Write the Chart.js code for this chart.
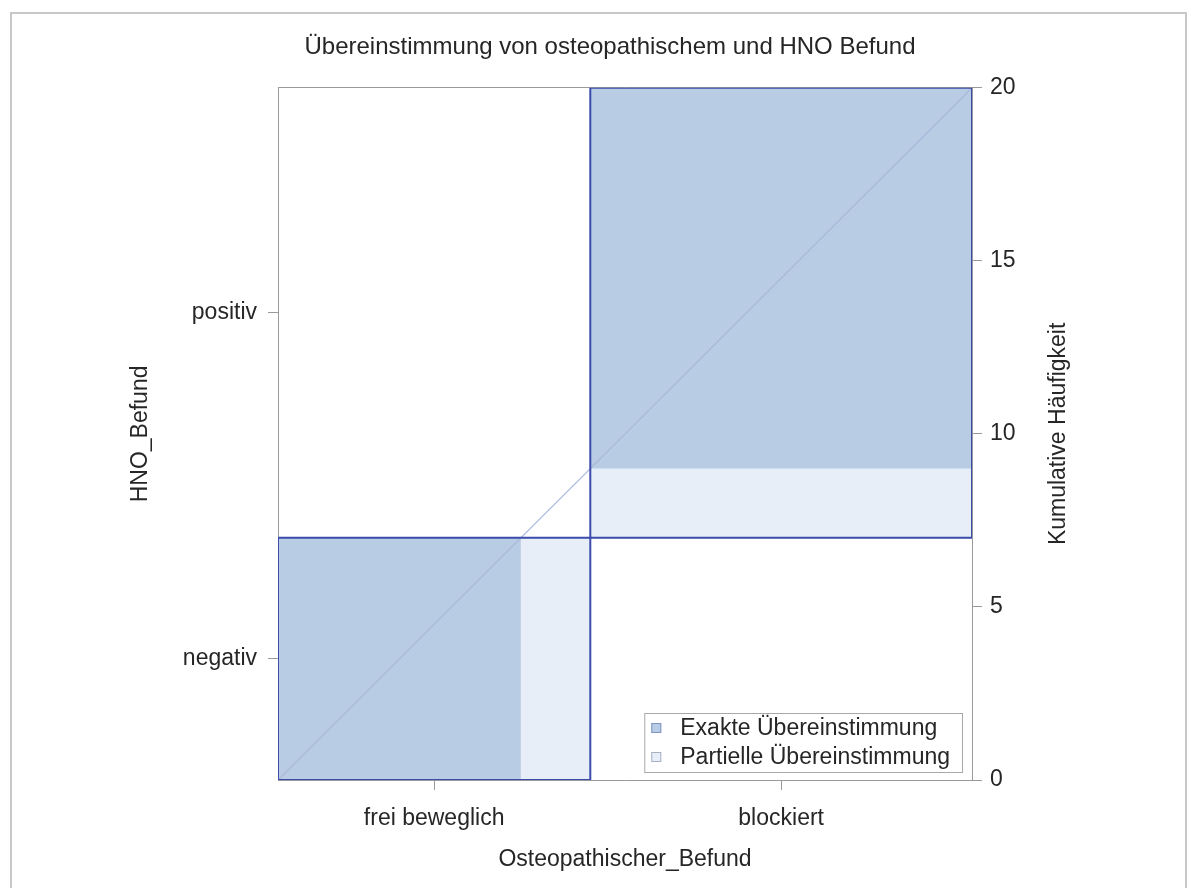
<!DOCTYPE html>
<html>
<head>
<meta charset="utf-8">
<script src="https://cdn.jsdelivr.net/npm/chart.js@4.4.1/dist/chart.umd.min.js"></script>
<style>
  html, body { margin: 0; padding: 0; background: #ffffff; }
  #wrap { position: relative; width: 1188px; height: 888px; overflow: hidden; }
  #wrap canvas { position: absolute; left: 0; top: 0; }
  #frame { position: absolute; left: 10px; top: 12px; width: 1177px; height: 900px;
           border: 2px solid #c8c8c8; box-sizing: border-box; pointer-events: none; }
</style>
</head>
<body>
<div id="wrap">
  <canvas id="chart" width="1188" height="888"></canvas>
  <div id="frame"></div>
</div>
<script>
// Categories of the two ratings
const columnCategories = ['frei beweglich', 'blockiert'];   // Osteopathischer_Befund
const rowCategories = ['negativ', 'positiv'];               // HNO_Befund

// Cell counts per HNO row, one value per osteopathic column
const negativCounts = [7, 0];
const positivCounts = [2, 11];

// Right axis ticks (cumulative frequency)
const cumulativeTicks = [0, 5, 10, 15, 20];

const legendLabels = ['Exakte Übereinstimmung', 'Partielle Übereinstimmung'];

const titleText = 'Übereinstimmung von osteopathischem und HNO Befund';
const xTitle = 'Osteopathischer_Befund';
const yTitle = 'HNO_Befund';
const y2Title = 'Kumulative Häufigkeit';

// ---- derived geometry of the agreement plot ----
const counts = [negativCounts, positivCounts];
const k = columnCategories.length;
const colTotals = columnCategories.map((_, c) => counts.reduce((s, row) => s + row[c], 0));
const rowTotals = counts.map(row => row.reduce((s, v) => s + v, 0));
const N = rowTotals.reduce((s, v) => s + v, 0);
const colCum = [0];
colTotals.forEach(t => colCum.push(colCum[colCum.length - 1] + t));
const rowCum = [0];
rowTotals.forEach(t => rowCum.push(rowCum[rowCum.length - 1] + t));
const colMids = colTotals.map((t, i) => colCum[i] + t / 2);
const rowMids = rowTotals.map((t, i) => rowCum[i] + t / 2);

const FONT = '"Liberation Sans", Arial, Helvetica, sans-serif';
const TEXT = '#262626';
const AXIS = '#9a9a9a';
const EXACT = '#b8cce4';
const PARTIAL = '#e7eef8';
const OUTLINE = '#3b4bab';
const DIAGONAL = '#a9b7d9';

const sumCol = (c, from, to) => { let s = 0; for (let r = Math.max(0, from); r <= Math.min(k - 1, to); r++) s += counts[r][c]; return s; };
const sumRow = (r, from, to) => { let s = 0; for (let c = Math.max(0, from); c <= Math.min(k - 1, to); c++) s += counts[r][c]; return s; };

const outlineSets = [], exactSets = [], partialSets = [];
for (let i = 0; i < k; i++) {
  const x0 = colCum[i], x1 = colCum[i + 1], y0 = rowCum[i], y1 = rowCum[i + 1];
  outlineSets.push({
    label: 'Rahmen ' + (i + 1),
    data: [{x: x0, y: y0}, {x: x1, y: y0}, {x: x1, y: y1}, {x: x0, y: y1}, {x: x0, y: y0}],
    borderColor: OUTLINE, borderWidth: 2, pointRadius: 0, fill: false
  });
  // diagonal cell square
  const ex0 = x0 + sumCol(i, 0, i - 1), ey0 = y0 + sumRow(i, 0, i - 1);
  const ex1 = ex0 + counts[i][i], ey1 = ey0 + counts[i][i];
  exactSets.push({
    label: legendLabels[0],
    data: [{x: ex0, y: ey1}, {x: ex1, y: ey1}],
    fill: {value: ey0}, backgroundColor: EXACT,
    borderColor: 'rgba(0,0,0,0)', borderWidth: 0, pointRadius: 0
  });
  // cells one category apart
  const px0 = x0 + sumCol(i, 0, i - 2), px1 = x0 + sumCol(i, 0, i + 1);
  const py0 = y0 + sumRow(i, 0, i - 2), py1 = y0 + sumRow(i, 0, i + 1);
  partialSets.push({
    label: legendLabels[1],
    data: [{x: px0, y: py1}, {x: px1, y: py1}],
    fill: {value: py0}, backgroundColor: PARTIAL,
    borderColor: 'rgba(0,0,0,0)', borderWidth: 0, pointRadius: 0
  });
}
const diagonalSet = {
  label: 'Diagonale',
  data: [{x: 0, y: 0}, {x: N, y: N}],
  borderColor: DIAGONAL, borderWidth: 1.2, pointRadius: 0, fill: false
};

// first dataset is painted last (on top)
const datasets = [...outlineSets, diagonalSet, ...exactSets, ...partialSets];

// Legend inside the lower right corner of the plot
const agreementLegend = {
  id: 'agreementLegend',
  afterDraw(chart) {
    const {ctx, chartArea} = chart;
    ctx.save();
    ctx.font = '23px ' + FONT;
    const textW = Math.max(...legendLabels.map(t => ctx.measureText(t).width));
    const w = 36 + textW + 12, h = 59;
    const right = chartArea.right - 10, bottom = chartArea.bottom - 8;
    const left = right - w, top = bottom - h;
    ctx.fillStyle = '#ffffff';
    ctx.fillRect(left, top, w, h);
    ctx.strokeStyle = '#a8a8a8';
    ctx.lineWidth = 1;
    ctx.strokeRect(left + 0.5, top + 0.5, w, h);
    const swatches = [[EXACT, '#7f94c4'], [PARTIAL, '#a9b0c4']];
    legendLabels.forEach((label, i) => {
      const y = top + 15 + i * 29;
      ctx.fillStyle = swatches[i][0];
      ctx.fillRect(left + 7, y - 5, 10, 10);
      ctx.strokeStyle = swatches[i][1];
      ctx.strokeRect(left + 7.5, y - 4.5, 9, 9);
      ctx.fillStyle = TEXT;
      ctx.textBaseline = 'middle';
      ctx.textAlign = 'left';
      ctx.fillText(label, left + 36, y + 1);
    });
    ctx.restore();
  }
};

// Right axis title reads bottom to top
const rightAxisTitle = {
  id: 'rightAxisTitle',
  afterDraw(chart) {
    const {ctx, chartArea} = chart;
    const sc = chart.scales.y2;
    ctx.save();
    ctx.translate(sc.left + 87, (chartArea.top + chartArea.bottom) / 2);
    ctx.rotate(-Math.PI / 2);
    ctx.font = '23px ' + FONT;
    ctx.fillStyle = TEXT;
    ctx.textAlign = 'center';
    ctx.textBaseline = 'middle';
    ctx.fillText(y2Title, 0, 0);
    ctx.restore();
  }
};

const tickGrid = {display: true, drawOnChartArea: false, drawTicks: true, tickLength: 10, color: AXIS, lineWidth: 1};

new Chart(document.getElementById('chart'), {
  type: 'line',
  data: {datasets},
  plugins: [agreementLegend, rightAxisTitle],
  options: {
    responsive: false,
    animation: false,
    events: [],
    layout: {padding: {left: 32, right: 0, top: 0, bottom: 0}},
    plugins: {
      legend: {display: false},
      tooltip: {enabled: false},
      title: {
        display: true, text: titleText, color: TEXT,
        font: {family: FONT, size: 24, weight: 'normal', lineHeight: 1.2},
        padding: {top: 33, bottom: 26}
      }
    },
    scales: {
      x: {
        type: 'linear', position: 'bottom', min: 0, max: N,
        afterBuildTicks: axis => { axis.ticks = colMids.map(v => ({value: v})); },
        afterFit: axis => { axis.height = 108; },
        ticks: {callback: (v, i) => columnCategories[i], color: TEXT, font: {family: FONT, size: 23}, padding: 15, maxRotation: 0, autoSkip: false},
        grid: tickGrid,
        border: {display: true, color: AXIS, width: 1},
        title: {display: true, text: xTitle, color: TEXT, font: {family: FONT, size: 23}, padding: {top: 0, bottom: 15}}
      },
      xTop: {
        type: 'linear', position: 'top', min: 0, max: N, z: 1,
        afterFit: axis => { axis.height = 0; },
        ticks: {display: false},
        grid: {display: false},
        border: {display: true, color: AXIS, width: 1}
      },
      y: {
        type: 'linear', position: 'left', min: 0, max: N,
        afterBuildTicks: axis => { axis.ticks = rowMids.map(v => ({value: v})); },
        afterFit: axis => { axis.width = 246; },
        ticks: {callback: (v, i) => rowCategories[i], color: TEXT, font: {family: FONT, size: 23}, padding: 11, autoSkip: false},
        grid: tickGrid,
        border: {display: true, color: AXIS, width: 1},
        title: {display: true, text: yTitle, color: TEXT, font: {family: FONT, size: 23}, padding: {top: 95, bottom: 0}}
      },
      y2: {
        type: 'linear', position: 'right', min: 0, max: N, z: 1,
        afterBuildTicks: axis => { axis.ticks = cumulativeTicks.map(v => ({value: v})); },
        afterFit: axis => { axis.width = 216; },
        ticks: {color: TEXT, font: {family: FONT, size: 23}, padding: 8, autoSkip: false},
        grid: tickGrid,
        border: {display: true, color: AXIS, width: 1}
      }
    }
  }
});
</script>
</body>
</html>
